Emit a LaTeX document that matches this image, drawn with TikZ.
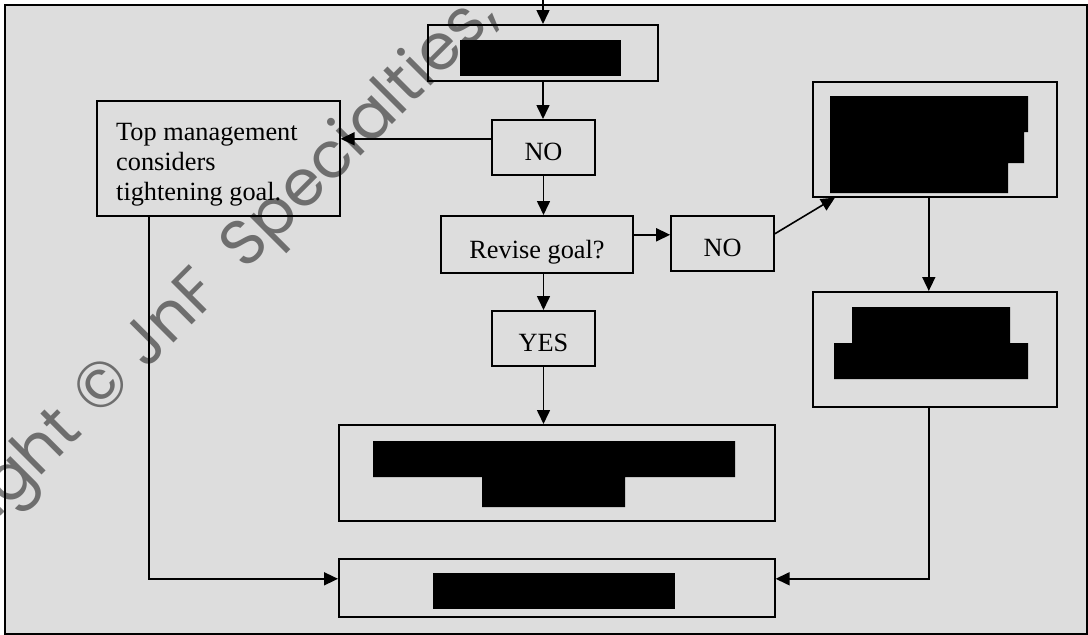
\documentclass[tikz,border=0pt]{standalone}
\usepackage{fontspec}
\setmainfont{Liberation Serif}
\newfontfamily\wmfont{Poppins}
\usetikzlibrary{arrows.meta}
\definecolor{panel}{HTML}{DDDDDD}

\begin{document}
\begin{tikzpicture}[x=1pt, y=-1pt,
    every node/.style={font=\fontsize{26.3}{30}\selectfont},
    box/.style={draw, line width=1.6pt, inner sep=0pt},
    answer/.style={box, text height=41pt, text depth=14pt},
    redact/.style={fill=black},
    stamp/.style={font=\wmfont\fontsize{64}{64}\selectfont, opacity=0.5,
      rotate=45, inner sep=0pt},
    flow/.style={line width=1.6pt, -{Triangle[length=14pt,width=13pt]}}]
  \useasboundingbox (0,0) rectangle (1088,635);
  \clip (0,0) rectangle (1088,635);
  \draw[line width=2pt, fill=panel] (5,5) rectangle (1087,634);
  % middle column
  \coordinate (entry) at (543,0);
  \node[box, minimum width=230pt, minimum height=56pt, anchor=north] (goal) at (543,24) {};
  \node[answer, minimum width=103pt, anchor=north] (no1) at (543.5,119) {NO};
  \node[answer, text height=43pt, minimum width=192pt, anchor=north] (revise) at (537,215) {Revise goal?};
  \node[answer, minimum width=103pt, anchor=north] (no2) at (722.5,215) {NO};
  \node[answer, minimum width=103pt, anchor=north] (yes) at (543.5,310) {YES};
  \node[box, minimum width=436pt, minimum height=96pt, anchor=north west] (result) at (338,424) {};
  \node[box, minimum width=436pt, minimum height=58pt, anchor=north west] (final) at (338,558) {};
  % left and right
  \node[box, minimum width=243pt, minimum height=115pt, anchor=north west] (mgmt) at (96,100) {};
  \node[anchor=north west, align=left, inner sep=0pt] (mgmttext) at (116,123)
    {Top management\\considers\\tightening goal.};
  \node[box, minimum width=244pt, minimum height=115pt, anchor=north west] (plan) at (812,81) {};
  \node[box, minimum width=244pt, minimum height=115pt, anchor=north west] (act) at (812,291) {};
  % connectors
  \draw[flow] (entry) -- (goal);
  \draw[flow] (goal) -- (goal.south |- no1.north);
  \draw[flow] ([yshift=8.5pt]no1.west) coordinate (tap) -- (tap -| mgmt.east);
  \draw[flow] (no1) -- (no1.south |- revise.north);
  \draw[flow] ([yshift=9.5pt]revise.east) coordinate (fork) -- (fork -| no2.west);
  \draw[flow] ([yshift=9.5pt]no2.east) -- ([xshift=23pt]plan.south west);
  \draw[flow] ([xshift=-6pt]plan.south) -- ([xshift=-6pt]act.north);
  \draw[flow] (revise.south -| yes) -- (yes);
  \draw[flow] (yes) -- (yes |- result.north);
  \draw[flow] ([xshift=-69.5pt]mgmt.south) |- ([yshift=9pt]final.west);
  \draw[flow] ([xshift=-6pt]act.south) |- ([yshift=9pt]final.east);
  % blacked out text
  \fill[redact] (460,40) rectangle (621,76);
  \fill[redact] (830,96) rectangle (1028,132) (830,132) rectangle (1024,163)
    (830,163) rectangle (1008,193);
  \fill[redact] (852,307) rectangle (1010,343) (834,343) rectangle (1028,379);
  \fill[redact] (373,441) rectangle (735,477) (482,477) rectangle (625,507);
  \fill[redact] (433,573) rectangle (675,609);
  % watermark
  \coordinate (seal) at (98,419);
  \node[stamp, anchor=base east] (mark) at (seal) {Copyright\kern0.3em};
  \node[stamp, anchor=base west] (mark2) at (seal) {© JnF\hspace{0.25em} Specialties,};
\end{tikzpicture}
\end{document}
